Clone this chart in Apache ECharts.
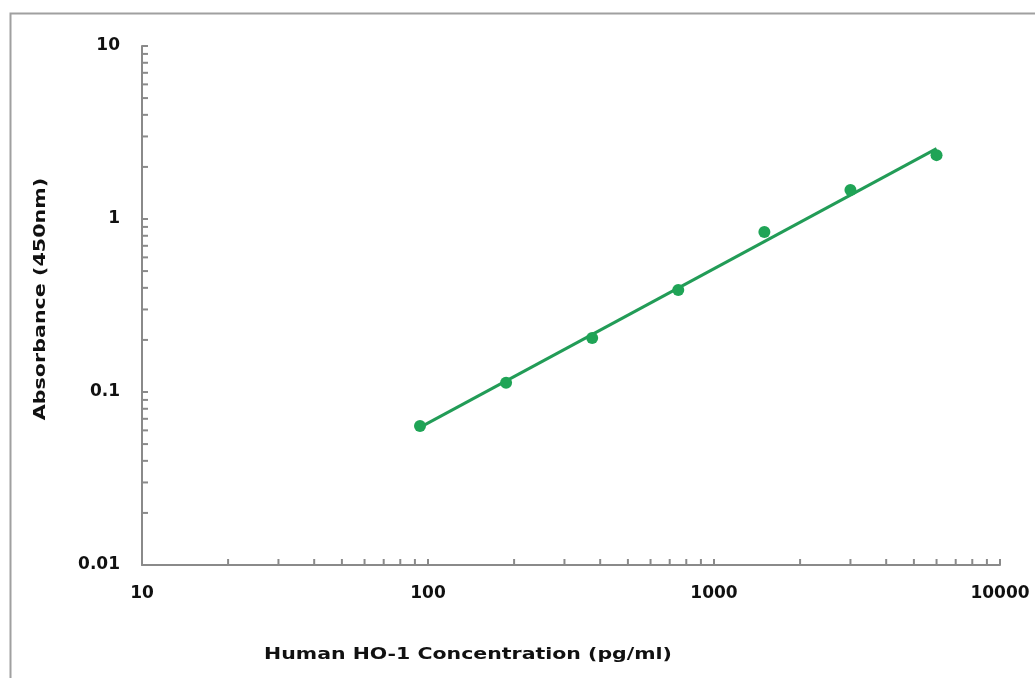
<!DOCTYPE html>
<html>
<head>
<meta charset="utf-8">
<script src="https://cdn.jsdelivr.net/npm/echarts@6/dist/echarts.min.js"></script>
<style>html,body{margin:0;padding:0;background:#fff}#c{width:1035px;height:678px}</style>
</head>
<body>
<div id="c"></div>
<script>
const concentrations = [93.75, 187.5, 375, 750, 1500, 3000, 6000];
const absorbance = [0.0636, 0.113, 0.205, 0.389, 0.841, 1.47, 2.34];
const trendX = [93.75, 6000];
const trendY = [0.0625, 2.55];
const xMinorTicks = [20,30,40,50,60,70,80,90,200,300,400,500,600,700,800,900,2000,3000,4000,5000,6000,7000,8000,9000];
const yMinorTicks = [0.02,0.03,0.04,0.05,0.06,0.07,0.08,0.09,0.2,0.3,0.4,0.5,0.6,0.7,0.8,0.9,2,3,4,5,6,7,8,9];
const xTitle = 'Human HO-1 Concentration (pg/ml)';
const yTitle = 'Absorbance (450nm)';

const green = '#1fa456';
const axisColor = '#8a8a8a';
const font = 'DejaVu Sans';

const chart = echarts.init(document.getElementById('c'), null, {renderer: 'canvas'});
const fmt = v => String(+Number(v).toPrecision(6));

chart.setOption({
  animation: false,
  backgroundColor: '#fff',
  grid: {left: 142, right: 35, top: 46, bottom: 113},
  graphic: [
    {type: 'rect', left: 8, top: 11, shape: {width: 1100, height: 800}, style: {fill: 'none', stroke: '#a0a0a0', lineWidth: 2}, silent: true, z: -1},
    {type: 'text', x: 468, y: 655, scaleX: 1.28, silent: true,
     style: {text: xTitle, font: 'bold 16px "' + font + '"', fill: '#111', textAlign: 'center', textVerticalAlign: 'middle'}},
    {type: 'text', x: 41, y: 299, scaleX: 1.29, rotation: Math.PI / 2, silent: true,
     style: {text: yTitle, font: 'bold 16px "' + font + '"', fill: '#111', textAlign: 'center', textVerticalAlign: 'middle'}}
  ],
  xAxis: {
    type: 'log', logBase: 10, min: 10, max: 10000,
    axisLine: {lineStyle: {color: axisColor, width: 2}},
    axisTick: {inside: true, length: 6, lineStyle: {color: axisColor, width: 2}},
    splitLine: {show: false},
    axisLabel: {formatter: fmt, margin: 20, color: '#111', fontFamily: font, fontWeight: 'bold', fontSize: 17}
  },
  yAxis: {
    type: 'log', logBase: 10, min: 0.01, max: 10,
    axisLine: {show: true, lineStyle: {color: axisColor, width: 2}},
    axisTick: {show: true, inside: true, length: 6, lineStyle: {color: axisColor, width: 2}},
    splitLine: {show: false},
    axisLabel: {formatter: fmt, margin: 22, color: '#111', fontFamily: font, fontWeight: 'bold', fontSize: 17}
  },
  series: [
    {
      type: 'custom', silent: true, clip: false, z: 1,
      data: xMinorTicks.map(v => [v, 0.01]),
      renderItem: (params, api) => {
        const p = api.coord([api.value(0), api.value(1)]);
        return {type: 'line', shape: {x1: p[0], y1: p[1], x2: p[0], y2: p[1] - 6}, style: {stroke: axisColor, lineWidth: 2}};
      }
    },
    {
      type: 'custom', silent: true, clip: false, z: 1,
      data: yMinorTicks.map(v => [10, v]),
      renderItem: (params, api) => {
        const p = api.coord([api.value(0), api.value(1)]);
        return {type: 'line', shape: {x1: p[0], y1: p[1], x2: p[0] + 6, y2: p[1]}, style: {stroke: axisColor, lineWidth: 2}};
      }
    },
    {
      type: 'line', silent: true, symbol: 'none', z: 2,
      data: trendX.map((x, i) => [x, trendY[i]]),
      lineStyle: {color: '#229c57', width: 3}
    },
    {
      type: 'scatter', silent: true, z: 3, symbolSize: 12,
      data: concentrations.map((x, i) => [x, absorbance[i]]),
      itemStyle: {color: green, opacity: 1}
    }
  ]
});
</script>
</body>
</html>
